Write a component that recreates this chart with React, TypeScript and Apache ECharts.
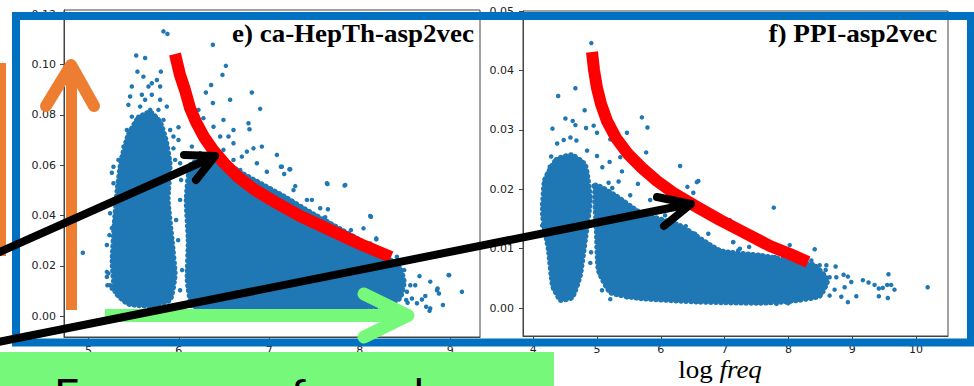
import React, { useEffect, useRef } from "react";
import * as echarts from "echarts";

// ---------- axis ticks ----------
const E_X_TICKS = [5, 6, 7, 8, 9];
const E_Y_TICKS = [0, 0.02, 0.04, 0.06, 0.08, 0.1, 0.12];
const F_X_TICKS = [4, 5, 6, 7, 8, 9, 10];
const F_Y_TICKS = [0, 0.01, 0.02, 0.03, 0.04, 0.05];

// ---------- titles ----------
const E_TITLE = "e) ca-HepTh-asp2vec";
const F_TITLE = "f) PPI-asp2vec";
const X_LABEL_LOG = "log";
const X_LABEL_FREQ = "freq";
const NOTE_TEXT = "Frequency of a node";

// ---------- dense regions (outlines, data units) ----------
const E_DENSE_A = [
  [5.55, 0.0788], [5.683, 0.0812], [5.793, 0.0772], [5.859, 0.07], [5.904, 0.0601],
  [5.882, 0.0462], [5.926, 0.0302], [5.959, 0.0163], [5.904, 0.0064], [5.683, 0.004],
  [5.439, 0.0048], [5.295, 0.0096], [5.262, 0.0215], [5.284, 0.0362], [5.317, 0.0501],
  [5.362, 0.0621], [5.439, 0.072],
];
const E_DENSE_B = [
  [6.125, 0.0601], [6.291, 0.0629], [6.479, 0.0621], [6.678, 0.0573], [6.899, 0.0529],
  [7.176, 0.0474], [7.452, 0.0414], [7.729, 0.0358], [8.006, 0.0302], [8.282, 0.0239],
  [8.448, 0.0191], [8.492, 0.0135], [8.448, 0.0072], [8.282, 0.004], [7.784, 0.0028],
  [7.12, 0.0024], [6.457, 0.0028], [6.147, 0.004], [6.092, 0.0143], [6.103, 0.0302],
  [6.081, 0.0462],
];
const F_DENSE_A = [
  [4.36, 0.025], [4.6, 0.0258], [4.817, 0.0241], [4.895, 0.0182], [4.817, 0.0114],
  [4.739, 0.0055], [4.614, 0.0018], [4.427, 0.0013], [4.302, 0.0038], [4.239, 0.0097],
  [4.145, 0.0156], [4.177, 0.0215],
];
const F_DENSE_B = [
  [4.973, 0.0207], [5.286, 0.019], [5.677, 0.0161], [6.302, 0.0139], [6.927, 0.0097],
  [7.552, 0.0089], [8.177, 0.0077], [8.411, 0.0072], [8.614, 0.0047], [8.489, 0.002],
  [8.02, 0.0011], [7.552, 0.0008], [6.614, 0.001], [5.677, 0.0016], [5.208, 0.0026],
  [5.02, 0.0064], [4.989, 0.0131],
];

// ---------- individual points ----------
const E_POINTS = [
  [5.83, 0.1132], [5.874, 0.1122], [6.376, 0.1079], [5.528, 0.1036], [5.627, 0.1026],
  [6.52, 0.0995], [6.482, 0.0959], [5.542, 0.0972], [5.801, 0.0972], [6.807, 0.0889],
  [6.899, 0.0824], [6.357, 0.0919], [6.299, 0.0889], [6.567, 0.086], [6.376, 0.0847],
  [5.442, 0.084], [6.77, 0.0767], [6.781, 0.0743], [6.493, 0.078], [6.217, 0.082],
  [6.272, 0.0787], [6.383, 0.0753], [6.604, 0.074], [5.996, 0.0751], [5.94, 0.0667],
  [5.885, 0.0648], [6.549, 0.0714], [6.604, 0.0687], [6.825, 0.0667], [6.918, 0.0674],
  [7.084, 0.0641], [6.863, 0.0608], [7.128, 0.0594], [7.231, 0.0584], [6.973, 0.0574],
  [6.697, 0.0634], [6.752, 0.0654], [5.259, 0.057], [5.351, 0.0568], [5.425, 0.0634],
  [5.387, 0.0674], [5.425, 0.074], [5.553, 0.0793], [5.627, 0.086], [5.664, 0.0913],
  [5.757, 0.0939], [5.774, 0.082], [5.867, 0.0833], [5.48, 0.0793], [5.591, 0.088],
  [5.701, 0.088], [5.83, 0.078], [5.904, 0.074], [5.996, 0.07],
  [5.608, 0.0952], [5.701, 0.0926], [5.793, 0.0913], [5.572, 0.0833], [5.683, 0.082],
  [5.517, 0.0767], [5.442, 0.0714], [5.387, 0.0648], [5.369, 0.0608], [5.332, 0.0621],
  [5.277, 0.0594], [5.94, 0.0714], [5.959, 0.0621], [6.014, 0.0608], [6.088, 0.0581],
  [5.738, 0.0767], [5.793, 0.086], [5.48, 0.0913], [5.461, 0.0873],
  [6.144, 0.0674], [6.236, 0.0648], [6.31, 0.07], [6.42, 0.0608], [6.493, 0.0661],
  [6.604, 0.0621], [6.678, 0.0581], [6.457, 0.0714],
  [7.139, 0.0594], [7.223, 0.0584], [7.165, 0.0565], [7.268, 0.0501], [7.287, 0.0517],
  [7.644, 0.0525], [7.832, 0.0519], [7.416, 0.0462], [7.471, 0.0462], [7.563, 0.0429],
  [7.648, 0.0425], [8.124, 0.0395], [7.618, 0.0393], [7.718, 0.0358], [7.903, 0.0342],
  [8.042, 0.0349], [8.183, 0.0309], [8.116, 0.0289], [8.411, 0.0236], [8.492, 0.0183],
  [8.661, 0.0159], [8.99, 0.0163], [9.13, 0.0097], [8.78, 0.0137], [8.861, 0.011],
  [8.876, 0.009], [8.92, 0.0044], [8.772, 0.0021], [8.735, 0.0037], [8.688, 0.0066],
  [8.633, 0.0051], [8.577, 0.007], [8.614, 0.0123], [8.559, 0.0123], [8.522, 0.0097],
  [8.725, 0.008], [8.514, 0.0064], [8.529, 0.0053], [8.374, 0.017],
  [7.637, 0.0528], [7.84, 0.0521], [8.116, 0.0398], [8.183, 0.0305], [8.982, 0.0163],
  [8.78, 0.0031], [8.854, 0.0103],
  [4.938, 0.0252], [5.204, 0.0283], [5.232, 0.0322], [5.221, 0.017], [5.24, 0.0123],
  [5.259, 0.035], [5.277, 0.0528], [5.369, 0.0449], [5.204, 0.0176], [5.21, 0.0123],
  [5.24, 0.0409], [5.295, 0.0369], [5.204, 0.0156], [5.259, 0.011], [5.406, 0.0455],
  [6.014, 0.0462], [5.992, 0.0302], [6.036, 0.0183], [6.014, 0.0103], [5.97, 0.0382],
  [6.025, 0.0541],
];

const F_POINTS = [
  [4.911, 0.0446], [4.661, 0.037], [4.391, 0.0357], [4.806, 0.0333], [4.505, 0.0319],
  [4.619, 0.0315], [4.661, 0.0308], [4.302, 0.0302], [4.828, 0.0303], [4.947, 0.0307],
  [5.0, 0.0295], [4.583, 0.0287], [5.703, 0.0321], [5.791, 0.0304], [5.469, 0.0295],
  [5.208, 0.0284], [4.844, 0.0265], [5.0, 0.0256], [5.77, 0.0262], [5.197, 0.0246],
  [5.364, 0.0254], [5.083, 0.0237], [5.391, 0.023], [6.302, 0.0239], [6.588, 0.0214],
  [6.416, 0.0204], [5.641, 0.0209], [5.181, 0.0211], [4.947, 0.0206], [5.338, 0.0213],
  [4.739, 0.0249], [4.228, 0.0227], [4.192, 0.0208], [4.375, 0.0277], [4.478, 0.0283],
  [4.677, 0.0282], [4.281, 0.0255], [4.259, 0.0238],
  [4.141, 0.0175], [4.141, 0.0139], [4.313, 0.0033], [4.427, 0.0025], [5.208, 0.0015],
  [5.469, 0.0018], [5.806, 0.0021], [6.509, 0.0013], [6.813, 0.0016], [5.078, 0.003],
  [4.895, 0.0076], [4.906, 0.0094], [6.509, 0.0194], [6.563, 0.0212], [6.391, 0.0138],
  [6.536, 0.0125], [6.744, 0.0125], [6.875, 0.0097], [7.134, 0.0111], [7.213, 0.0097],
  [6.978, 0.0089],
  [5.364, 0.0173], [5.833, 0.0182], [6.067, 0.0156], [6.614, 0.0165], [5.239, 0.0202],
  [5.52, 0.019], [5.989, 0.0139],
  [7.77, 0.0169], [8.02, 0.0106], [8.411, 0.0099], [7.083, 0.0148], [7.134, 0.0111],
  [7.239, 0.01], [7.384, 0.0103], [7.552, 0.0087], [7.786, 0.0086], [8.359, 0.008],
  [8.489, 0.0072], [8.594, 0.0072], [8.739, 0.007], [8.583, 0.0064], [8.516, 0.0057],
  [8.645, 0.0052], [8.75, 0.0052], [8.864, 0.0056], [8.931, 0.0053], [8.984, 0.0044],
  [9.166, 0.0047], [9.255, 0.0043], [9.349, 0.0039], [9.416, 0.0033], [9.478, 0.0034],
  [9.567, 0.0057], [9.547, 0.0039], [9.609, 0.0039], [9.661, 0.0031], [9.416, 0.002],
  [9.557, 0.0017], [10.181, 0.0035], [8.931, 0.001], [9.063, 0.002], [8.828, 0.0019],
  [8.645, 0.0021], [8.723, 0.0031], [8.88, 0.0035], [7.813, 0.0007], [7.994, 0.0008],
  [7.344, 0.0012], [7.031, 0.0014], [8.125, 0.0041], [8.281, 0.0027], [8.384, 0.0019],
];

// ---------- slide annotations (pixel positions on the slide) ----------
const RED_CURVE_E = [
  [175, 54], [180, 75], [185, 90], [190, 108], [196, 122], [204, 137], [213, 150],
  [224, 163], [238, 177], [255, 190], [275, 202], [300, 216], [330, 230], [360, 244], [391, 257],
];
const RED_CURVE_F = [
  [592, 52], [594, 70], [597, 88], [601, 104], [607, 121], [616, 138], [628, 154],
  [642, 168], [657, 181], [675, 194], [697, 207], [720, 220], [745, 233], [770, 246],
  [790, 254], [808, 262],
];

const BLUE = "#1f77b4";
const AXIS = "#444";

function App() {
  const ref = useRef<HTMLDivElement | null>(null);

  useEffect(() => {
    document.body.style.margin = "0";
    if (!ref.current) return;
    const chart = echarts.init(ref.current, null, { renderer: "svg" });

    const densePolys = [E_DENSE_A, E_DENSE_B, F_DENSE_A, F_DENSE_B];

    const makeX = (grid: number, min: number, max: number, ticks: number[]) => ({
      type: "value",
      gridIndex: grid,
      min,
      max,
      axisLine: { show: true, onZero: false, lineStyle: { color: AXIS, width: 1 } },
      axisTick: { show: true, customValues: ticks, length: 4, lineStyle: { color: AXIS } },
      axisLabel: {
        customValues: ticks,
        formatter: (v: number) => String(v),
        color: "#222",
        fontFamily: "DejaVu Sans",
        fontSize: 11,
        margin: 8,
      },
      splitLine: { show: false },
    });
    const makeY = (grid: number, min: number, max: number, ticks: number[], margin: number) => ({
      type: "value",
      gridIndex: grid,
      min,
      max,
      axisLine: { show: true, onZero: false, lineStyle: { color: AXIS, width: 1 } },
      axisTick: { show: true, customValues: ticks, length: 4, lineStyle: { color: AXIS } },
      axisLabel: {
        customValues: ticks,
        formatter: (v: number) => v.toFixed(2),
        color: "#222",
        fontFamily: "DejaVu Sans",
        fontSize: 11,
        margin,
      },
      splitLine: { show: false },
    });

    const denseSeries = (grid: number, idx: number[]) => ({
      type: "custom",
      xAxisIndex: grid,
      yAxisIndex: grid,
      z: 2,
      silent: true,
      data: idx.map((i) => [i]),
      renderItem: (params: any, api: any) => {
        const poly = densePolys[idx[params.dataIndex]];
        const pts = poly.map((p) => api.coord(p));
        return {
          type: "group",
          children: [
            {
              type: "polygon",
              shape: { points: pts, smooth: 0.15 },
              style: { fill: BLUE, stroke: "none" },
            },
            {
              type: "polygon",
              shape: { points: pts, smooth: 0.15 },
              style: {
                fill: "none",
                stroke: BLUE,
                lineWidth: 5,
                lineDash: [0.5, 4.5],
                lineCap: "round",
              },
            },
          ],
        };
      },
    });

    const Z = 100;
    const option: any = {
      animation: false,
      backgroundColor: "#ffffff",
      grid: [
        { left: 64, top: 10, width: 416, height: 327, show: true, borderColor: AXIS, borderWidth: 1 },
        { left: 523, top: 11, width: 425, height: 325, show: true, borderColor: AXIS, borderWidth: 1 },
      ],
      xAxis: [makeX(0, 4.73, 9.33, E_X_TICKS), makeX(1, 3.84, 10.5, F_X_TICKS)],
      yAxis: [makeY(0, -0.0083, 0.1217, E_Y_TICKS, 8), makeY(1, -0.0047, 0.05, F_Y_TICKS, 9)],
      series: [
        denseSeries(0, [0, 1]),
        denseSeries(1, [2, 3]),
        {
          type: "scatter",
          xAxisIndex: 0,
          yAxisIndex: 0,
          data: E_POINTS,
          symbolSize: 4.5,
          itemStyle: { color: BLUE, opacity: 1 },
          z: 3,
          silent: true,
        },
        {
          type: "scatter",
          xAxisIndex: 1,
          yAxisIndex: 1,
          data: F_POINTS,
          symbolSize: 4.5,
          itemStyle: { color: BLUE, opacity: 1 },
          z: 3,
          silent: true,
        },
      ],
      graphic: {
        elements: [
          {
            type: "rect",
            z: Z,
            shape: { x: 16, y: 16, width: 955, height: 326.5 },
            style: { fill: "none", stroke: "#0070C0", lineWidth: 8 },
          },
          {
            type: "rect",
            z: Z + 1,
            shape: { x: 0, y: 352, width: 554, height: 40 },
            style: { fill: "#76F97B" },
          },
          {
            type: "text",
            z: Z + 2,
            x: 54,
            y: 394,
            style: {
              text: NOTE_TEXT,
              x: 0,
              y: 0,
              fill: "#000",
              fontFamily: "Lato",
              fontSize: 44,
              align: "left",
              textAlign: "left",
              verticalAlign: "middle",
              textVerticalAlign: "middle",
            },
          },
          {
            type: "rect",
            z: Z + 3,
            shape: { x: -5, y: 63, width: 11, height: 193 },
            style: { fill: "#ED7D31" },
          },
          {
            type: "line",
            z: Z + 3,
            shape: { x1: 71.5, y1: 310, x2: 71.5, y2: 68 },
            style: { stroke: "#ED7D31", lineWidth: 11, lineCap: "butt" },
          },
          {
            type: "polyline",
            z: Z + 3,
            shape: { points: [[46, 106], [71, 65], [94, 106]] },
            style: { stroke: "#ED7D31", lineWidth: 12, lineCap: "round", lineJoin: "round", fill: "none" },
          },
          {
            type: "polyline",
            z: Z + 4,
            shape: { points: RED_CURVE_E },
            style: { stroke: "#FF0000", lineWidth: 12, lineCap: "butt", lineJoin: "round", fill: "none" },
          },
          {
            type: "polyline",
            z: Z + 4,
            shape: { points: RED_CURVE_F },
            style: { stroke: "#FF0000", lineWidth: 12, lineCap: "butt", lineJoin: "round", fill: "none" },
          },
          {
            type: "line",
            z: Z + 5,
            shape: { x1: 105, y1: 315.5, x2: 405, y2: 315.5 },
            style: { stroke: "#76F97B", lineWidth: 13, lineCap: "butt" },
          },
          {
            type: "polyline",
            z: Z + 5,
            shape: { points: [[364, 294], [408, 315.5], [364, 337]] },
            style: { stroke: "#76F97B", lineWidth: 13, lineCap: "round", lineJoin: "round", fill: "none" },
          },
          {
            type: "line",
            z: Z + 6,
            shape: { x1: -5, y1: 254, x2: 213, y2: 157 },
            style: { stroke: "#000", lineWidth: 8, lineCap: "round" },
          },
          {
            type: "polyline",
            z: Z + 6,
            shape: { points: [[184, 155], [215, 156], [196, 180]] },
            style: { stroke: "#000", lineWidth: 8, lineCap: "round", lineJoin: "round", fill: "none" },
          },
          {
            type: "line",
            z: Z + 6,
            shape: { x1: -5, y1: 342.7, x2: 690, y2: 204 },
            style: { stroke: "#000", lineWidth: 8, lineCap: "round" },
          },
          {
            type: "polyline",
            z: Z + 6,
            shape: { points: [[657, 197], [691, 204], [664, 226]] },
            style: { stroke: "#000", lineWidth: 8, lineCap: "round", lineJoin: "round", fill: "none" },
          },
          {
            type: "text",
            z: Z + 7,
            x: 474,
            y: 33.6,
            scaleX: 1.08,
            style: {
              text: E_TITLE,
              x: 0,
              y: 0,
              fill: "#000",
              fontFamily: "Liberation Serif",
              fontWeight: "bold",
              fontSize: 25,
              align: "right",
              textAlign: "right",
              verticalAlign: "middle",
              textVerticalAlign: "middle",
            },
          },
          {
            type: "text",
            z: Z + 7,
            x: 937,
            y: 33.6,
            scaleX: 1.09,
            style: {
              text: F_TITLE,
              x: 0,
              y: 0,
              fill: "#000",
              fontFamily: "Liberation Serif",
              fontWeight: "bold",
              fontSize: 25,
              align: "right",
              textAlign: "right",
              verticalAlign: "middle",
              textVerticalAlign: "middle",
            },
          },
          {
            type: "text",
            z: Z + 7,
            x: 720,
            y: 369.6,
            scaleX: 1.08,
            style: {
              text: "{a|" + X_LABEL_LOG + "} {b|" + X_LABEL_FREQ + "}",
              x: 0,
              y: 0,
              fill: "#000",
              fontFamily: "Liberation Serif",
              fontSize: 25,
              align: "center",
              textAlign: "center",
              verticalAlign: "middle",
              textVerticalAlign: "middle",
              rich: {
                a: { fontFamily: "Liberation Serif", fontSize: 25, fill: "#000" },
                b: { fontFamily: "Liberation Serif", fontSize: 25, fontStyle: "italic", fill: "#000" },
              },
            },
          },
        ],
      },
    };

    chart.setOption(option);
    return () => chart.dispose();
  }, []);

  return <div ref={ref} style={{ width: 974, height: 386 }} />;
}

export default App;
